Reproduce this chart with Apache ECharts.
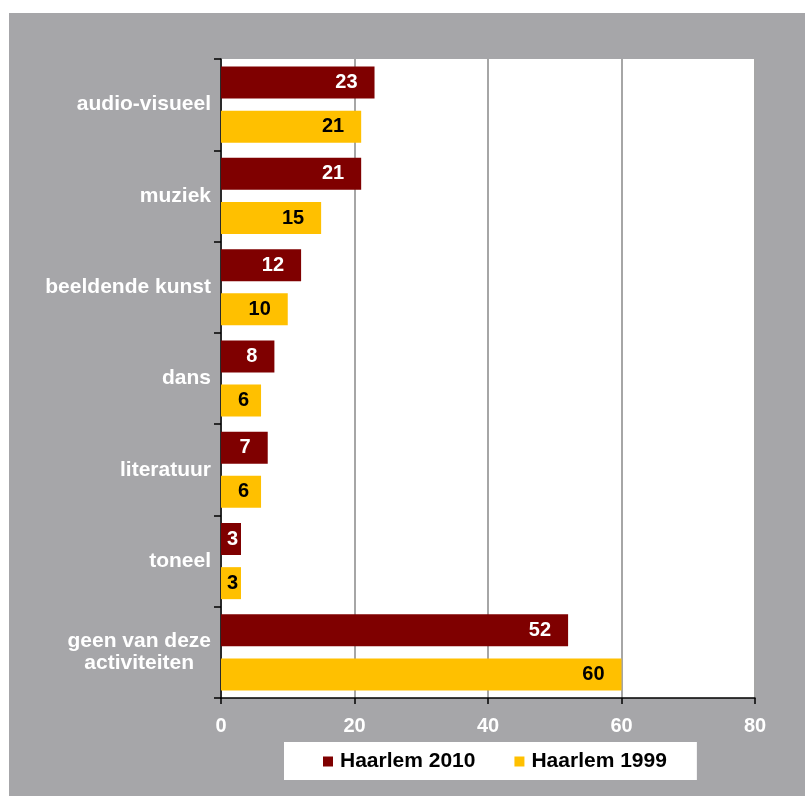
<!DOCTYPE html>
<html><head><meta charset="utf-8">
<script src="https://cdn.jsdelivr.net/npm/echarts@6/dist/echarts.min.js"></script>
<style>html,body{margin:0;padding:0;background:#fff}#c{width:805px;height:796px}</style>
</head><body><div id="c"></div>
<script>
const categories = ['audio-visueel','muziek','beeldende kunst','dans','literatuur','toneel','geen van deze\nactiviteiten'];
const haarlem2010 = [23,21,12,8,7,3,52];
const haarlem1999 = [21,15,10,6,6,3,60];
const xTicks = [0,20,40,60,80];

const FONT = "'Liberation Sans', Arial, sans-serif";
const chart = echarts.init(document.getElementById('c'), null, {renderer:'canvas'});
function lab(v){ return {value:v, label:{distance: v >= 7 ? 17 : (v >= 5 ? 12 : 3)}}; }
chart.setOption({
  animation:false,
  graphic:[{type:'rect', left:9, top:13, shape:{width:796, height:783}, style:{fill:'#a6a6a9'}, z:-10}],
  grid:{left:221, right:50, top:59, bottom:98, show:true, backgroundColor:'#ffffff', borderWidth:0},
  legend:{
    left:284, top:742, backgroundColor:'#ffffff', padding:[9,30,8,39],
    itemWidth:10, itemHeight:10, itemGap:39, icon:'rect',
    textStyle:{fontFamily:FONT, fontWeight:'bold', fontSize:21, color:'#000', padding:[0,0,0,2]},
    data:['Haarlem 2010','Haarlem 1999']
  },
  xAxis:{
    type:'value', min:xTicks[0], max:xTicks[xTicks.length-1], interval:20,
    axisLine:{show:true, lineStyle:{color:'#000', width:1.5}},
    axisTick:{show:true, length:6, lineStyle:{color:'#000', width:1.5}},
    axisLabel:{color:'#fff', fontFamily:FONT, fontWeight:'bold', fontSize:20, margin:18},
    splitLine:{show:true, lineStyle:{color:'#a6a6a6', width:2}}
  },
  yAxis:{
    type:'category', data:categories, inverse:true,
    axisLine:{show:true, lineStyle:{color:'#000', width:1.5}},
    axisTick:{show:true, length:7, lineStyle:{color:'#000', width:1.5}},
    axisLabel:{color:'#fff', fontFamily:FONT, fontWeight:'bold', fontSize:21, margin:10, lineHeight:22,
      formatter: v => v.includes('\n') ? v.split('\n').map(s => '{m|' + s + '}').join('\n') : v,
      rich:{m:{align:'center', color:'#fff', fontFamily:FONT, fontWeight:'bold', fontSize:21, lineHeight:22}}
    },
    splitLine:{show:false}
  },
  series:[
    {name:'Haarlem 2010', type:'bar', data:haarlem2010.map(lab), barWidth:32, barGap:'38%',
     itemStyle:{color:'#7f0000'},
     label:{show:true, position:'insideRight', color:'#fff', fontFamily:FONT, fontWeight:'bold', fontSize:20}},
    {name:'Haarlem 1999', type:'bar', data:haarlem1999.map(lab), barWidth:32, barGap:'38%',
     itemStyle:{color:'#ffc000'},
     label:{show:true, position:'insideRight', color:'#000', fontFamily:FONT, fontWeight:'bold', fontSize:20}}
  ]
});
</script></body></html>
